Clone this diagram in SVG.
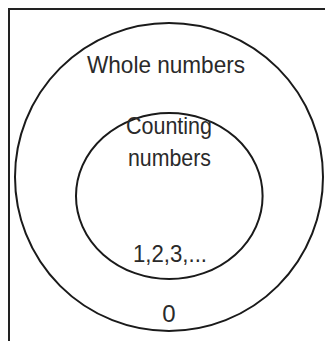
<svg xmlns="http://www.w3.org/2000/svg" width="325" height="341" viewBox="0 0 325 341">
<style>
.frame{fill:none;stroke:#222;stroke-width:2}
.set{fill:none;stroke:#1a1a1a;stroke-width:2}
.lbl{font-family:"Liberation Sans",Arial,sans-serif;font-size:24px;fill:#2a2a2a;text-anchor:middle}
</style>
<rect width="325" height="341" fill="#fff"/>
<path class="frame" d="M9,341 V9 H325"/>
<g id="whole-numbers">
<circle class="set" cx="169" cy="177" r="154"/>
<text class="lbl" x="166" y="72.5" textLength="158" lengthAdjust="spacingAndGlyphs">Whole numbers</text>
<text class="lbl" x="169" y="322" >0</text>
</g>
<g id="counting-numbers">
<ellipse class="set" cx="169.3" cy="196" rx="93.3" ry="83"/>
<text class="lbl" x="169" y="134" textLength="86" lengthAdjust="spacingAndGlyphs">Counting</text>
<text class="lbl" x="169.5" y="165.5" textLength="83" lengthAdjust="spacingAndGlyphs">numbers</text>
<text class="lbl" x="170" y="261.5" textLength="74" lengthAdjust="spacingAndGlyphs">1,2,3,...</text>
</g>
<g id="connectors"></g>
</svg>
